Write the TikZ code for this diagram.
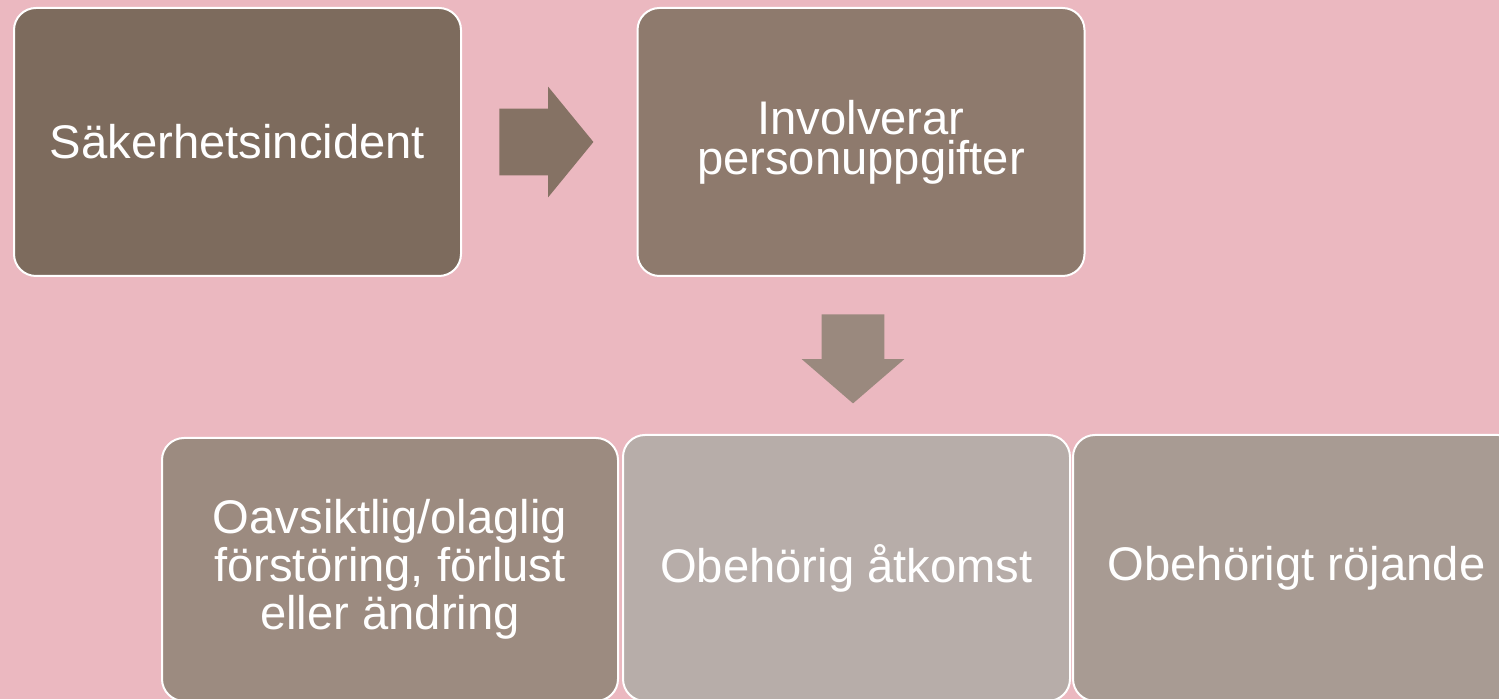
\documentclass[tikz,border=0pt]{standalone}
\usepackage{fontspec}
\setmainfont{Liberation Sans}
\usetikzlibrary{shapes.arrows}
\definecolor{bgpink}{HTML}{EBB8C0}
\definecolor{box_a}{HTML}{7D6B5D}
\definecolor{box_b}{HTML}{8E7A6D}
\definecolor{box_c}{HTML}{9C8B80}
\definecolor{box_d}{HTML}{B7ADA9}
\definecolor{box_e}{HTML}{A89B93}
\definecolor{arw_a}{HTML}{857264}
\definecolor{arw_b}{HTML}{9A897E}
\tikzset{
  stepbox/.style = {rectangle, rounded corners=11pt, draw=white, line width=1pt,
    text=white, align=center, inner sep=0pt, font=\fontsize{23.6pt}{21pt}\selectfont},
  box_top/.style = {stepbox, minimum width=223.5pt, minimum height=134pt},
  box_bot/.style = {stepbox, minimum width=223.5pt, minimum height=133pt},
  blockarw/.style = {single arrow, inner xsep=0pt, minimum width=0pt, draw=none},
}

\begin{document}
\begin{tikzpicture}[x=0.5pt, y=-0.5pt]
  \useasboundingbox (0,0) rectangle (1499,699);
  \fill [bgpink] (0,0) rectangle (1499,699);
  % top row
  \node [box_top, fill=box_a] (incident) at (237.5,142) {S\"akerhetsincident};
  \node [box_top, fill=box_b] (persdata) at (861,142) {Involverar\\[-1pt]personuppgifter};
  \node [blockarw, fill=arw_a, anchor=tail, inner ysep=16.5pt,
    single arrow head extend=11pt, single arrow tip angle=101.4,
    minimum height=47pt] (arr_r) at (499,142) {};
  \node [blockarw, fill=arw_b, anchor=tail, rotate=-90, inner ysep=15.5pt,
    single arrow head extend=10pt, single arrow tip angle=98.4,
    minimum height=44.5pt] (arr_d) at (853,314) {};
  % bottom row
  \node [box_bot, fill=box_c, minimum width=228pt, minimum height=131.5pt] (destroy) at (390,569.5)
    {Oavsiktlig/olaglig\\[1pt]f\"orst\"oring, f\"orlust\\[1pt]eller \"andring};
  \node [box_bot, fill=box_d] (access) at (846.5,568) {Obeh\"orig \aa tkomst};
  \node [box_bot, fill=box_e] (disclose) at (1296.5,568) {Obeh\"origt r\"ojande};
\end{tikzpicture}
\end{document}
